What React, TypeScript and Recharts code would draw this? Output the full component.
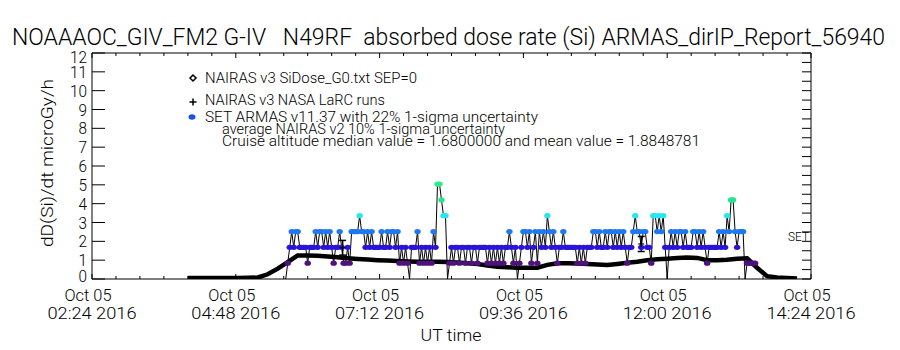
import React from "react";
import { ComposedChart, Line, Scatter, ErrorBar, XAxis, YAxis } from "recharts";

const FONT = "Roboto, 'DejaVu Sans Condensed', 'DejaVu Sans', sans-serif";
const WEIGHT = 300;

const title = "NOAAAOC_GIV_FM2 G-IV   N49RF  absorbed dose rate (Si) ARMAS_dirIP_Report_56940";
const yTitle = "dD(Si)/dt microGy/h";
const xTitle = "UT time";
const dayLabel = "Oct 05";
const yearLabel = "2016";
const legendNairas = "NAIRAS v3 SiDose_G0.txt SEP=0";
const legendLarc = "NAIRAS v3 NASA LaRC runs";
const legendArmas = "SET ARMAS v11.37 with 22% 1-sigma uncertainty";
const legendAvg = "average NAIRAS v2 10% 1-sigma uncertainty";
const legendCruise = "Cruise altitude median value = 1.6800000 and mean value = 1.8848781";
const sideLabel = "SET";

// x axis in minutes after 00:00 UT, Oct 05 2016
const xDomain = [144, 864];
const xMajorTicks = [144, 288, 432, 576, 720, 864];
const xMinorTicks = [
  144, 168, 192, 216, 240, 264, 288, 312, 336, 360, 384, 408, 432, 456, 480, 504,
  528, 552, 576, 600, 624, 648, 672, 696, 720, 744, 768, 792, 816, 840, 864,
];
const yTicks = [0, 1, 2, 3, 4, 5, 6, 7, 8, 9, 10, 11, 12];
const yRightTicks = [
  0, 0.5, 1, 1.5, 2, 2.5, 3, 3.5, 4, 4.5, 5, 5.5, 6, 6.5, 7, 7.5, 8, 8.5, 9, 9.5,
  10, 10.5, 11, 11.5, 12,
];

// NAIRAS v3 model dose rate, every 10 min from 04:00
const nairasStart = 240;
const nairasStep = 10;
const nairasDose = [
  0.05, 0.05, 0.05, 0.05, 0.05, 0.05, 0.06, 0.08, 0.25, 0.55,
  0.9, 1.25, 1.25, 1.24, 1.2, 1.15, 1.1, 1.06, 1.03, 1.0,
  0.98, 0.95, 0.93, 0.92, 0.92, 0.92, 0.9, 0.88, 0.84, 0.8,
  0.72, 0.65, 0.62, 0.6, 0.6, 0.6, 0.75, 0.83, 0.83, 0.82,
  0.8, 0.77, 0.75, 0.8, 0.86, 0.92, 1.0, 1.05, 1.08, 1.12,
  1.14, 1.12, 1.0, 1.0, 1.02, 1.08, 1.1, 0.6, 0.15, 0.08,
  0.05, 0.03,
];

// SET ARMAS readings, every 2 min from 05:38, as quantised level codes
const armasStart = 338;
const armasStep = 2;
const armasLevelValues = [0, 0.84, 1.68, 2.52, 3.36, 4.2, 5.04];
const armasLevelColors = ["#000000", "#50107e", "#2a14dc", "#1e78f0", "#28e6f0", "#22e68c", "#2aec8c"];
const armasCodes =
  "0123233222" + "2122232332" + "3232122321" + "1213333433" + "2323222232" +
  "2323323121" + "2102223121" + "2121326654" + "4012122122" + "1221221222" +
  "2121212121" + "2232120123" + "3231231323" + "2432321223" + "2222221212" +
  "1222332322" + "3233232323" + "2122343323" + "3221443434" + "2023232332" +
  "3222332323" + "2122222323" + "2435532333" + "011111";

// NAIRAS v3 LaRC runs with spread
const larcTimes = [395, 694];
const larcDose = [1.66, 1.86];
const larcErr = [0.39, 0.4];

const nairasData = nairasDose.map((v, i) => ({ t: nairasStart + i * nairasStep, dose: v }));
const armasData = armasCodes.split("").map((c, i) => ({
  t: armasStart + i * armasStep,
  level: Number(c),
  dose: armasLevelValues[Number(c)],
}));
const larcData = larcTimes.map((t, i) => ({ t, dose: larcDose[i], err: larcErr[i] }));

const hhmm = (m: number) => {
  const h = Math.floor(m / 60);
  const mm = m % 60;
  return `${String(h).padStart(2, "0")}:${String(mm).padStart(2, "0")}`;
};

function BottomTick(props: any) {
  const { x, y, payload } = props;
  const major = xMajorTicks.includes(payload.value);
  return (
    <g>
      <line x1={x} x2={x} y1={y} y2={y - (major ? 5 : 3)} stroke="#000" />
      {major && (
        <g fontFamily={FONT} fontWeight={WEIGHT} fontSize={17} fill="#000">
          <text x={x - 4} y={y + 22} textAnchor="middle" textLength={47} lengthAdjust="spacingAndGlyphs">
            {dayLabel}
          </text>
          <text x={x} y={y + 40} textAnchor="middle" textLength={89} lengthAdjust="spacingAndGlyphs">
            {`${hhmm(payload.value)} ${yearLabel}`}
          </text>
        </g>
      )}
    </g>
  );
}

function TopTick(props: any) {
  const { x, y, payload } = props;
  const major = xMajorTicks.includes(payload.value);
  return <line x1={x} x2={x} y1={y} y2={y + (major ? 5 : 3)} stroke="#000" />;
}

function LeftTick(props: any) {
  const { x, y, payload } = props;
  const v = payload.value;
  const shift = v === 0 ? -3 : v === 12 ? 4 : 0;
  const label = String(v);
  return (
    <g>
      <line x1={x} x2={x + 13} y1={y} y2={y} stroke="#000" />
      <text
        x={x - 5}
        y={y + shift + 6}
        textAnchor="end"
        fontFamily={FONT}
        fontWeight={WEIGHT}
        fontSize={17}
        fill="#000"
        textLength={label.length * 8.5}
        lengthAdjust="spacingAndGlyphs"
      >
        {label}
      </text>
    </g>
  );
}

function RightTick(props: any) {
  const { x, y } = props;
  return <line x1={x} x2={x - 9} y1={y} y2={y} stroke="#000" />;
}

function ArmasDot(props: any) {
  const { cx, cy, payload, index } = props;
  if (!payload || payload.level === 0) return <g key={`d${index}`} />;
  return (
    <ellipse
      key={`d${index}`}
      cx={cx}
      cy={cy}
      rx={3.2}
      ry={2.6}
      fill={armasLevelColors[payload.level]}
    />
  );
}

function PlusShape(props: any) {
  const { cx, cy } = props;
  return (
    <g stroke="#000" strokeWidth={1.2}>
      <line x1={cx - 3} x2={cx + 3} y1={cy} y2={cy} />
      <line x1={cx} x2={cx} y1={cy - 3} y2={cy + 3} />
    </g>
  );
}

function Overlay() {
  return (
    <svg
      width={900}
      height={350}
      style={{ position: "absolute", left: 0, top: 0, pointerEvents: "none" }}
    >
      <g fontFamily={FONT} fontWeight={WEIGHT} fill="#000">
        <text x={12} y={45} fontSize={24} xmlSpace="preserve" textLength={873} lengthAdjust="spacingAndGlyphs">
          {title}
        </text>
        <text
          transform="translate(53,163) rotate(-90)"
          textAnchor="middle"
          fontSize={17}
          textLength={168}
          lengthAdjust="spacingAndGlyphs"
        >
          {yTitle}
        </text>
        <text x={451} y={341} textAnchor="middle" fontSize={17} textLength={61} lengthAdjust="spacingAndGlyphs">
          {xTitle}
        </text>
        <g fontSize={14}>
          <text x={205} y={83} textLength={212} lengthAdjust="spacingAndGlyphs">{legendNairas}</text>
          <text x={205} y={105} textLength={180} lengthAdjust="spacingAndGlyphs">{legendLarc}</text>
          <text x={205} y={122} textLength={333} lengthAdjust="spacingAndGlyphs">{legendArmas}</text>
          <text x={222} y={134} textLength={283} lengthAdjust="spacingAndGlyphs">{legendAvg}</text>
          <text x={222} y={146} textLength={478} lengthAdjust="spacingAndGlyphs">{legendCruise}</text>
        </g>
        <text x={788} y={241} fontSize={12} textLength={21} lengthAdjust="spacingAndGlyphs">
          {sideLabel}
        </text>
      </g>
      <polygon points="193,75 196,78 193,81 190,78" fill="none" stroke="#000" strokeWidth={1.5} />
      <g stroke="#000" strokeWidth={1.5}>
        <line x1={189.5} x2={196.5} y1={102} y2={102} />
        <line x1={193} x2={193} y1={98.5} y2={105.5} />
      </g>
      <ellipse cx={192} cy={117} rx={3.5} ry={2.7} fill="#1e50e6" />
    </svg>
  );
}

export default function App() {
  return (
    <div style={{ position: "absolute", left: 0, top: 0, width: 900, height: 350, background: "#fff" }}>
      <ComposedChart
        width={900}
        height={350}
        margin={{ top: 52, right: 79, bottom: 11, left: 0 }}
      >
        <XAxis
          dataKey="t"
          type="number"
          domain={xDomain}
          ticks={xMinorTicks}
          interval={0}
          allowDataOverflow
          height={60}
          tickSize={0}
          tickMargin={0}
          tickLine={false}
          axisLine={{ stroke: "#000" }}
          tick={(p: any) => <BottomTick {...p} />}
        />
        <XAxis
          xAxisId="top"
          orientation="top"
          dataKey="t"
          type="number"
          domain={xDomain}
          ticks={xMinorTicks}
          interval={0}
          allowDataOverflow
          height={1}
          tickSize={0}
          tickMargin={0}
          tickLine={false}
          axisLine={{ stroke: "#000" }}
          tick={(p: any) => <TopTick {...p} />}
        />
        <YAxis
          type="number"
          domain={[0, 12]}
          ticks={yTicks}
          interval={0}
          allowDataOverflow
          width={92}
          tickSize={0}
          tickMargin={0}
          tickLine={false}
          axisLine={{ stroke: "#000" }}
          tick={(p: any) => <LeftTick {...p} />}
        />
        <YAxis
          yAxisId="right"
          orientation="right"
          type="number"
          domain={[0, 12]}
          ticks={yRightTicks}
          interval={0}
          allowDataOverflow
          width={10}
          tickSize={0}
          tickMargin={0}
          tickLine={false}
          axisLine={{ stroke: "#000" }}
          tick={(p: any) => <RightTick {...p} />}
        />
        <Line
          data={nairasData}
          dataKey="dose"
          type="linear"
          stroke="#000"
          strokeWidth={4.5}
          dot={false}
          activeDot={false}
          isAnimationActive={false}
        />
        <Line
          data={armasData}
          dataKey="dose"
          type="linear"
          stroke="#000"
          strokeWidth={1}
          dot={(p: any) => <ArmasDot {...p} key={`a${p.index}`} />}
          activeDot={false}
          isAnimationActive={false}
        />
        <Scatter data={larcData} dataKey="dose" shape={(p: any) => <PlusShape {...p} />} isAnimationActive={false}>
          <ErrorBar dataKey="err" direction="y" width={3.5} stroke="#000" strokeWidth={1.5} isAnimationActive={false} />
        </Scatter>
      </ComposedChart>
      <Overlay />
    </div>
  );
}
